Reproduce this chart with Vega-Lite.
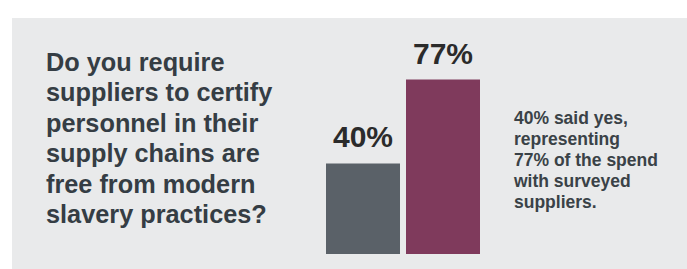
{
  "$schema": "https://vega.github.io/schema/vega-lite/v6.json",
  "width": 675,
  "height": 251,
  "padding": {"left": 12, "top": 18, "right": 0, "bottom": 0},
  "autosize": {"type": "none"},
  "background": "#ffffff",
  "view": {"fill": "#e9eaeb", "stroke": null},
  "config": {"font": "Liberation Sans"},
  "layer": [
    {
      "data": {"values": [
        {"measure": "Suppliers saying yes", "share": 0.40},
        {"measure": "Share of spend", "share": 0.77}
      ]},
      "layer": [
        {
          "mark": {"type": "bar"},
          "encoding": {
            "x": {"field": "measure", "type": "nominal", "sort": null, "axis": null,
                  "scale": {"range": [314, 468], "paddingInner": 0.075, "paddingOuter": 0}},
            "y": {"field": "share", "type": "quantitative", "axis": null,
                  "scale": {"domain": [0, 1.042], "range": [236, 0], "nice": false, "zero": true}},
            "color": {"field": "measure", "type": "nominal", "legend": null,
                      "scale": {"domain": ["Suppliers saying yes", "Share of spend"], "range": ["#5a6168", "#7f3a5c"]}}
          }
        },
        {
          "mark": {"type": "text", "dy": -16, "baseline": "alphabetic", "align": "center", "fontSize": 30, "fontWeight": "bold", "color": "#2b2b2b"},
          "encoding": {
            "x": {"field": "measure", "type": "nominal", "sort": null},
            "y": {"field": "share", "type": "quantitative"},
            "text": {"field": "share", "type": "quantitative", "format": ".0%"}
          }
        }
      ]
    },
    {
      "data": {"values": [{"block": "question"}]},
      "mark": {"type": "text", "align": "left", "baseline": "alphabetic", "fontSize": 25.3, "fontWeight": "bold", "color": "#353d44", "lineHeight": 30.5,
               "text": ["Do you require", "suppliers to certify", "personnel in their", "supply chains are", "free from modern", "slavery practices?"]},
      "encoding": {"x": {"value": 34}, "y": {"value": 52.7}}
    },
    {
      "data": {"values": [{"block": "note"}]},
      "mark": {"type": "text", "align": "left", "baseline": "alphabetic", "fontSize": 17.5, "fontWeight": "bold", "color": "#3a4247", "lineHeight": 21.1,
               "text": ["40% said yes,", "representing", "77% of the spend", "with surveyed", "suppliers."]},
      "encoding": {"x": {"value": 502}, "y": {"value": 106}}
    }
  ]
}
